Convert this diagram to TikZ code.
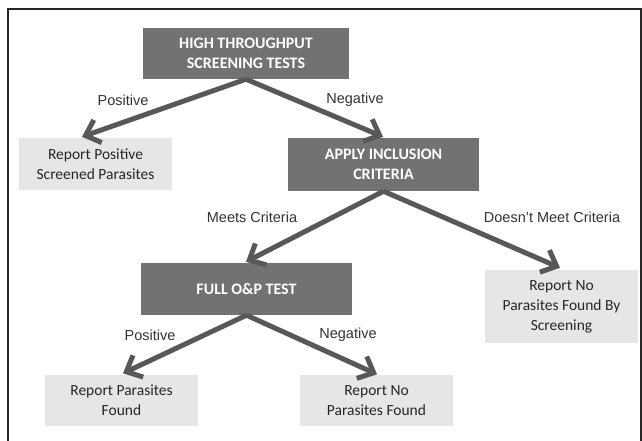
\documentclass[tikz,border=0pt]{standalone}
\usepackage{fontspec}
\setmainfont{Carlito}
\newfontfamily\lblfont{Liberation Sans}
\usetikzlibrary{arrows.meta}
\definecolor{darkbox}{HTML}{727274}
\definecolor{lightbox}{HTML}{E6E6E8}
\definecolor{arrowgray}{HTML}{58585A}
\begin{document}
\begin{tikzpicture}[x=1pt,y=-1pt,
  darkstep/.style={fill=darkbox,text=white,font=\fontsize{16}{19.5}\selectfont\bfseries,align=center,inner sep=0pt,anchor=center},
  lightstep/.style={fill=lightbox,text=black!85,font=\fontsize{15.5}{20}\selectfont,align=center,inner sep=0pt,anchor=center},
  flow/.style={draw=arrowgray,line width=5pt,-{Straight Barb[length=13pt,width=24pt,line width=5pt]}},
  lbl/.style={font=\lblfont\fontsize{14.5}{17}\selectfont,text=black!80,inner sep=0pt}]
\useasboundingbox (0,0) rectangle (642,441);
\draw[line width=1.5pt,black!85] (8,442) -- (8,9) -- (641,9) -- (641,442);

\node[darkstep,minimum width=206pt,minimum height=51pt] (high) at (246,53.5) {HIGH THROUGHPUT\\SCREENING TESTS};
\node[lightstep,minimum width=153pt,minimum height=52pt] (rps) at (95.5,164) {Report Positive\\Screened Parasites};
\node[darkstep,minimum width=191pt,minimum height=53pt] (apply) at (383.5,164.5) {APPLY INCLUSION\\CRITERIA};
\node[darkstep,minimum width=211pt,minimum height=52pt] (full) at (246.5,289) {FULL O\&P TEST};
\node[lightstep,minimum width=153pt,minimum height=73pt] (rnps) at (561.5,306.5) {Report No\\Parasites Found By\\Screening};
\node[lightstep,minimum width=153pt,minimum height=51pt] (rpf) at (121.5,400.5) {Report Parasites\\Found};
\node[lightstep,minimum width=153pt,minimum height=51pt] (rnpf) at (376.5,400.5) {Report No\\Parasites Found};

\draw[flow] (high.south) -- ([xshift=-13.5pt,yshift=1pt]rps.north);
\draw[flow] (high.south) -- ([xshift=-0.5pt,yshift=1pt]apply.north);
\draw[flow] (apply.south) -- ([xshift=-0.5pt,yshift=1pt]full.north);
\draw[flow] (apply.south) -- ([xshift=-1.5pt,yshift=2pt]rnps.north);
\draw[flow] (full.south) -- ([xshift=1.5pt,yshift=1.5pt]rpf.north);
\draw[flow] (full.south) -- ([xshift=0.5pt,yshift=0.5pt]rnpf.north);

\node[lbl] (l1) at (123,100) {Positive};
\node[lbl] (l2) at (355,100) {Negative};
\node[lbl] (l3) at (252,217) {Meets Criteria};
\node[lbl] (l4) at (552,217) {Doesn’t Meet Criteria};
\node[lbl] (l5) at (150,335) {Positive};
\node[lbl] (l6) at (348,335) {Negative};
\end{tikzpicture}
\end{document}
